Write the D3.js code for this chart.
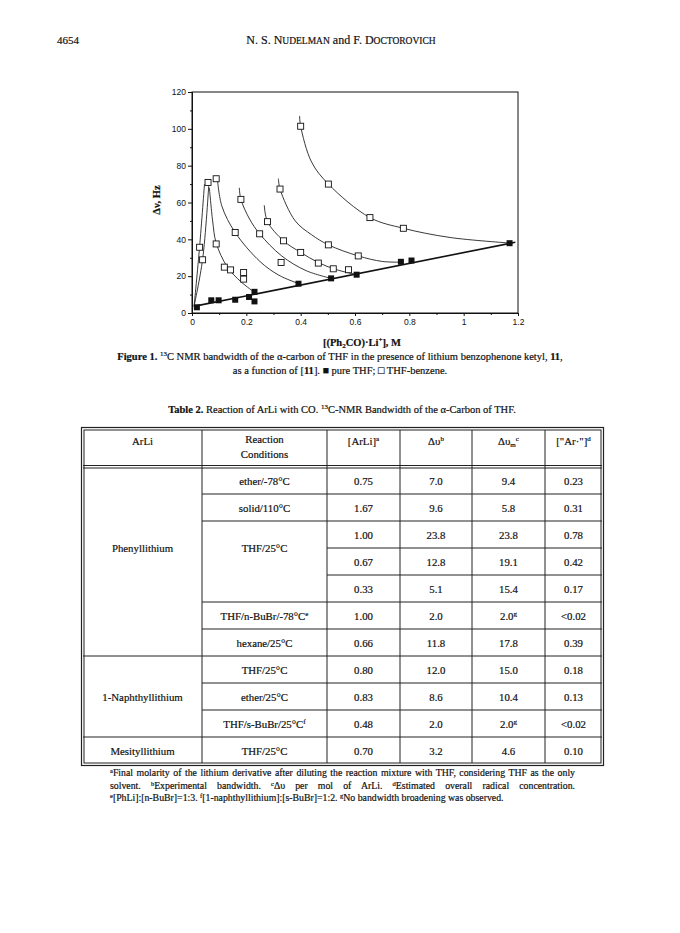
<!DOCTYPE html>
<html>
<head>
<meta charset="utf-8">
<script src="https://cdn.jsdelivr.net/npm/d3@7"></script>
<style>
  body { margin: 0; background: #fff; }
  svg { display: block; }
  .serif { font-family: "Liberation Serif", "DejaVu Serif", serif; fill: #111; stroke: #111; stroke-width: 0.2px; }
  .sans { font-family: "Liberation Sans", Arial, sans-serif; fill: #111; }
</style>
</head>
<body>
<svg id="page" width="680" height="933"></svg>
<script>
/****************************************************************************
 *  data
 ****************************************************************************/
// Figure 1: filled squares, pure THF
var pureThf = [
  [0.018, 3.1], [0.071, 6.9], [0.098, 6.9], [0.159, 7.2], [0.210, 8.7],
  [0.230, 11.5], [0.230, 6.3], [0.392, 15.9], [0.512, 18.8], [0.606, 20.8],
  [0.769, 27.8], [0.808, 28.5], [1.169, 37.9]
];
// straight line through the pure THF points
var pureThfLine = [[0.006, 3.6], [1.19, 38.4]];

// open squares, THF-benzene
var thfBenzene = [
  [0.028, 35.7], [0.039, 28.9], [0.059, 70.9], [0.089, 72.9], [0.089, 37.5],
  [0.119, 24.9], [0.142, 23.4], [0.190, 22.0], [0.190, 18.4], [0.180, 61.7],
  [0.159, 43.7], [0.249, 43.0], [0.278, 49.6], [0.328, 27.4], [0.337, 39.2],
  [0.324, 67.3], [0.400, 32.9], [0.400, 101.4], [0.465, 27.1], [0.502, 70.0],
  [0.502, 37.0], [0.520, 24.0], [0.576, 23.5], [0.612, 31.0], [0.655, 51.8],
  [0.778, 46.0]
];

// hand-drawn curves through the THF-benzene points
var benzeneCurves = [
  [[0.008, 4.0], [0.028, 36.0], [0.046, 70.0]],
  [[0.008, 4.0], [0.039, 29.0], [0.062, 70.0]],
  [[0.064, 68.0], [0.076, 50.0], [0.089, 38.0], [0.130, 25.0], [0.180, 17.0], [0.232, 11.0]],
  [[0.094, 72.0], [0.110, 58.0], [0.159, 43.7], [0.250, 28.0], [0.320, 20.5], [0.392, 16.0]],
  [[0.174, 68.0], [0.180, 61.7], [0.212, 51.0], [0.249, 43.0], [0.330, 31.0], [0.420, 23.0], [0.512, 18.8]],
  [[0.266, 58.5], [0.278, 49.6], [0.337, 39.2], [0.400, 32.9], [0.465, 27.4], [0.530, 23.6], [0.606, 20.8]],
  [[0.318, 73.0], [0.324, 67.3], [0.380, 50.0], [0.440, 42.5], [0.502, 37.0], [0.612, 31.0], [0.700, 28.0], [0.769, 27.6]],
  [[0.396, 107.0], [0.400, 101.4], [0.440, 82.0], [0.502, 70.0], [0.655, 51.8], [0.778, 46.0], [0.950, 41.0], [1.169, 38.0]]
];

var xTicks = [0, 0.2, 0.4, 0.6, 0.8, 1, 1.2];
var yTicks = [0, 20, 40, 60, 80, 100, 120];

// Table 2
var headerTexts = [
  [["ArLi", ""]],
  [["Reaction", ""], ["Conditions", ""]],
  [["[ArLi]", "a"]],
  [["\u0394\u03c5", "b"]],
  [["\u0394\u03c5", "c", "m"]],
  [["[\"Ar\u00b7\"]", "d"]]
];
var arLiNames = ["Phenyllithium", "1-Naphthyllithium", "Mesityllithium"];
var arLiSpans = [7, 3, 1];
var conditions = [
  ["ether/-78\u00b0C", ""], ["solid/110\u00b0C", ""], ["THF/25\u00b0C", ""],
  ["THF/n-BuBr/-78\u00b0C", "e"], ["hexane/25\u00b0C", ""], ["THF/25\u00b0C", ""],
  ["ether/25\u00b0C", ""], ["THF/s-BuBr/25\u00b0C", "f"], ["THF/25\u00b0C", ""]
];
var conditionSpans = [1, 1, 3, 1, 1, 1, 1, 1, 1];
var arLiConc = ["0.75", "1.67", "1.00", "0.67", "0.33", "1.00", "0.66", "0.80", "0.83", "0.48", "0.70"];
var bandwidth = ["7.0", "9.6", "23.8", "12.8", "5.1", "2.0", "11.8", "12.0", "8.6", "2.0", "3.2"];
var bandwidthPerMol = [["9.4", ""], ["5.8", ""], ["23.8", ""], ["19.1", ""], ["15.4", ""], ["2.0", "g"],
                       ["17.8", ""], ["15.0", ""], ["10.4", ""], ["2.0", "g"], ["4.6", ""]];
var radicalConc = ["0.23", "0.31", "0.78", "0.42", "0.17", "<0.02", "0.39", "0.18", "0.13", "<0.02", "0.10"];

var footnotes = [
  [["a", "Final molarity of the lithium derivative after diluting the reaction mixture with THF, considering THF as the only"]],
  [["", "solvent. "], ["b", "Experimental bandwidth. "], ["c", "\u0394\u03c5 per mol of ArLi. "], ["d", "Estimated overall radical concentration."]],
  [["e", "[PhLi]:[n-BuBr]=1:3. "], ["f", "[1-naphthyllithium]:[s-BuBr]=1:2. "], ["g", "No bandwidth broadening was observed."]]
];

/****************************************************************************
 *  page header
 ****************************************************************************/
var svg = d3.select("#page");
svg.append("rect").attr("width", 680).attr("height", 933).attr("fill", "#fff");

svg.append("text").attr("class", "serif")
  .attr("x", 57).attr("y", 44).attr("font-size", 11).text("4654");

var hd = svg.append("text").attr("class", "serif")
  .attr("x", 341).attr("y", 44).attr("font-size", 12)
  .attr("text-anchor", "middle");
hd.append("tspan").text("N. S. N");
hd.append("tspan").attr("font-size", 9.5).text("UDELMAN");
hd.append("tspan").text(" and F. D");
hd.append("tspan").attr("font-size", 9.5).text("OCTOROVICH");

/****************************************************************************
 *  figure 1
 ****************************************************************************/
var x = d3.scaleLinear().domain([0, 1.2]).range([192, 518]);
var y = d3.scaleLinear().domain([0, 120]).range([313, 92]);

var g = svg.append("g");

// frame
g.append("rect")
  .attr("x", x(0)).attr("y", y(120))
  .attr("width", x(1.2) - x(0)).attr("height", y(0) - y(120))
  .attr("fill", "none").attr("stroke", "#111").attr("stroke-width", 1);

var yAxis = d3.axisLeft(y).tickValues(yTicks).tickSize(4).tickPadding(2);
var yMinor = d3.axisLeft(y).tickValues(d3.range(10, 120, 20)).tickSize(2).tickFormat("");
var xAxis = d3.axisBottom(x).tickValues(xTicks).tickSize(3).tickPadding(3)
  .tickFormat(function(d) { return d3.format("")(d); });
var xMinor = d3.axisBottom(x).tickValues(d3.range(0.1, 1.2, 0.2)).tickSize(2).tickFormat("");

[[yAxis, "translate(" + x(0) + ",0)"], [yMinor, "translate(" + x(0) + ",0)"],
 [xAxis, "translate(0," + y(0) + ")"], [xMinor, "translate(0," + y(0) + ")"]].forEach(function(a) {
  var ax = g.append("g").attr("transform", a[1]).call(a[0]);
  ax.select(".domain").attr("stroke", "#111");
  ax.selectAll("line").attr("stroke", "#111");
  ax.selectAll("text").attr("class", "sans").attr("font-size", 8.5).attr("fill", "#111");
});

// axis titles
g.append("text").attr("class", "serif")
  .attr("transform", "translate(160,200) rotate(-90)")
  .attr("text-anchor", "middle").attr("font-size", 10.5).attr("font-weight", "bold")
  .text("\u0394\u03bd, Hz");

var xt = g.append("text").attr("class", "serif")
  .attr("x", 362).attr("y", 346).attr("text-anchor", "middle")
  .attr("font-size", 10.5).attr("font-weight", "bold");
xt.append("tspan").text("[(Ph");
xt.append("tspan").attr("font-size", 7).attr("dy", 2).text("2");
xt.append("tspan").attr("dy", -2).text("CO)\u00b7Li");
xt.append("tspan").attr("font-size", 7).attr("dy", -4).text("+");
xt.append("tspan").attr("dy", 4).text("], M");

// curves
var line = d3.line()
  .x(function(d) { return x(d[0]); })
  .y(function(d) { return y(d[1]); });
var smooth = d3.line()
  .x(function(d) { return x(d[0]); })
  .y(function(d) { return y(d[1]); })
  .curve(d3.curveCatmullRom.alpha(0.5));

g.append("path").attr("d", line(pureThfLine))
  .attr("fill", "none").attr("stroke", "#111").attr("stroke-width", 1.6);

g.selectAll("path.bc").data(benzeneCurves).enter()
  .append("path").attr("class", "bc")
  .attr("d", function(d) { return smooth(d); })
  .attr("fill", "none").attr("stroke", "#222").attr("stroke-width", 0.9);

var sq = 6;
g.selectAll("rect.open").data(thfBenzene).enter()
  .append("rect").attr("class", "open")
  .attr("x", function(d) { return x(d[0]) - sq / 2; })
  .attr("y", function(d) { return y(d[1]) - sq / 2; })
  .attr("width", sq).attr("height", sq)
  .attr("fill", "#fff").attr("stroke", "#111").attr("stroke-width", 0.9);

g.selectAll("rect.filled").data(pureThf).enter()
  .append("rect").attr("class", "filled")
  .attr("x", function(d) { return x(d[0]) - sq / 2; })
  .attr("y", function(d) { return y(d[1]) - sq / 2; })
  .attr("width", sq).attr("height", sq)
  .attr("fill", "#111");

// caption
var cap1 = svg.append("text").attr("class", "serif")
  .attr("x", 340).attr("y", 360).attr("text-anchor", "middle").attr("font-size", 10.5);
cap1.append("tspan").attr("font-weight", "bold").text("Figure 1. ");
cap1.append("tspan").attr("font-size", 7).attr("dy", -4).text("13");
cap1.append("tspan").attr("dy", 4).text("C NMR bandwidth of the \u03b1-carbon of THF in the presence of lithium benzophenone ketyl, ");
cap1.append("tspan").attr("font-weight", "bold").text("11");
cap1.append("tspan").text(",");

var cap2 = svg.append("text").attr("class", "serif")
  .attr("x", 340).attr("y", 374).attr("text-anchor", "middle").attr("font-size", 10.5);
cap2.append("tspan").text("as a function of [");
cap2.append("tspan").attr("font-weight", "bold").text("11");
cap2.append("tspan").text("]. \u25a0 pure THF; \u25a1 THF-benzene.");

/****************************************************************************
 *  table 2
 ****************************************************************************/
var tt = svg.append("text").attr("class", "serif")
  .attr("x", 342).attr("y", 413).attr("text-anchor", "middle").attr("font-size", 10.5);
tt.append("tspan").attr("font-weight", "bold").text("Table 2. ");
tt.append("tspan").text("Reaction of ArLi with CO. ");
tt.append("tspan").attr("font-size", 7).attr("dy", -4).text("13");
tt.append("tspan").attr("dy", 4).text("C-NMR Bandwidth of the \u03b1-Carbon of THF.");

var colX = [83, 202, 327, 400, 472, 545, 602];
var tableTop = 429, headBottom = 467, rowH = 27;
var nRows = arLiConc.length;
var tableBottom = headBottom + nRows * rowH;
var T = svg.append("g");
var ink = "#222";

function hline(x1, x2, yy, w) {
  T.append("line").attr("x1", x1).attr("x2", x2).attr("y1", yy).attr("y2", yy)
    .attr("stroke", ink).attr("stroke-width", w || 1);
}
function vline(xx, y1, y2, w) {
  T.append("line").attr("x1", xx).attr("x2", xx).attr("y1", y1).attr("y2", y2)
    .attr("stroke", ink).attr("stroke-width", w || 1);
}

// outer double border
T.append("rect").attr("x", colX[0] - 1.5).attr("y", tableTop - 1.5)
  .attr("width", colX[6] - colX[0] + 3).attr("height", tableBottom - tableTop + 3)
  .attr("fill", "none").attr("stroke", ink).attr("stroke-width", 1.2);
T.append("rect").attr("x", colX[0] + 1).attr("y", tableTop + 1)
  .attr("width", colX[6] - colX[0] - 2).attr("height", tableBottom - tableTop - 2)
  .attr("fill", "none").attr("stroke", ink).attr("stroke-width", 1);

// header double rule
hline(colX[0], colX[6], headBottom - 1.5, 1);
hline(colX[0], colX[6], headBottom + 1, 1);

// vertical rules
colX.slice(1, 6).forEach(function(cx) { vline(cx, tableTop + 1, tableBottom - 1, 1); });

function rowY(i) { return headBottom + i * rowH; }

// row rules: numeric columns every row
for (var i = 1; i < nRows; i++) hline(colX[2], colX[6], rowY(i), 1);
// conditions column
var acc = 0;
conditionSpans.forEach(function(s) {
  acc += s;
  if (acc < nRows) hline(colX[1], colX[2], rowY(acc), 1);
});
// ArLi column
acc = 0;
arLiSpans.forEach(function(s) {
  acc += s;
  if (acc < nRows) hline(colX[0], colX[1], rowY(acc), 1);
});

function cellText(cx, cy, parts, size) {
  var t = T.append("text").attr("class", "serif")
    .attr("x", cx).attr("y", cy).attr("text-anchor", "middle")
    .attr("font-size", size || 10.8);
  t.append("tspan").text(parts[0]);
  if (parts[2]) t.append("tspan").attr("font-size", 7).attr("dy", 2).text(parts[2]);
  if (parts[1]) t.append("tspan").attr("font-size", 7).attr("dy", parts[2] ? -6 : -4).text(parts[1]);
  return t;
}

// header
headerTexts.forEach(function(lines, c) {
  var cx = (colX[c] + colX[c + 1]) / 2;
  if (lines.length === 1) {
    cellText(cx, 445, lines[0]);
  } else {
    cellText(cx, 443, lines[0]);
    cellText(cx, 458, lines[1]);
  }
});

// ArLi names
acc = 0;
arLiSpans.forEach(function(s, k) {
  var cy = s === 7 ? rowY(3) : (rowY(acc) + rowY(acc + s)) / 2;
  cellText((colX[0] + colX[1]) / 2, cy + 4, [arLiNames[k], ""]);
  acc += s;
});

// conditions
acc = 0;
conditions.forEach(function(c, k) {
  var s = conditionSpans[k];
  var cy = s === 3 ? rowY(acc + 1) : (rowY(acc) + rowY(acc + s)) / 2;
  cellText((colX[1] + colX[2]) / 2, cy + 4, c);
  acc += s;
});

// numeric columns
[arLiConc, bandwidth, bandwidthPerMol, radicalConc].forEach(function(col, c) {
  col.forEach(function(v, r) {
    var parts = Array.isArray(v) ? v : [v, ""];
    cellText((colX[c + 2] + colX[c + 3]) / 2, (rowY(r) + rowY(r + 1)) / 2 + 4, parts);
  });
});

// footnotes (first two lines justified by widening the word gaps)
var fnY = [776, 789, 801];
var fnWidth = 465;
footnotes.forEach(function(parts, k) {
  var t = svg.append("text").attr("class", "serif")
    .attr("x", 110).attr("y", fnY[k]).attr("font-size", 9.8);
  parts.forEach(function(p) {
    if (p[0]) t.append("tspan").attr("font-size", 6.5).attr("dy", -3).text(p[0]);
    t.append("tspan").attr("dy", p[0] ? 3 : 0).text(p[1]);
  });
  if (k < 2) {
    var full = parts.map(function(p) { return p[1]; }).join("").trim();
    var gaps = full.split(" ").length - 1;
    var natural = t.node().getComputedTextLength();
    var extra = (fnWidth - natural) / gaps;
    if (extra > 0) t.style("word-spacing", extra + "px");
  }
});
</script>
</body>
</html>
